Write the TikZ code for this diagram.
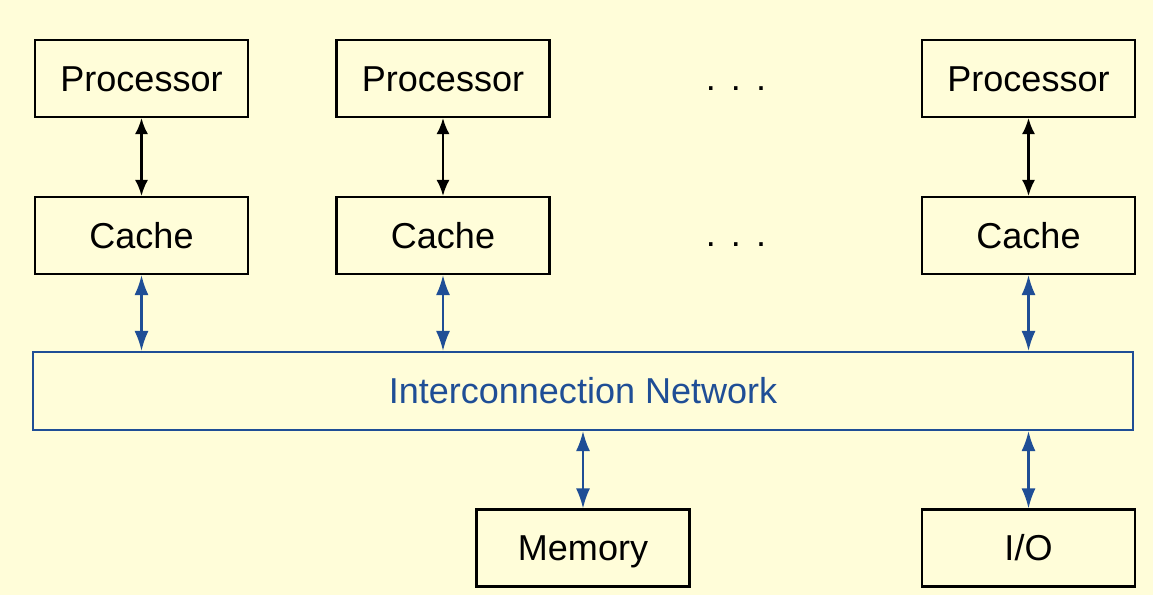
\documentclass[tikz,border=0pt]{standalone}
\usepackage{fontspec}
\setmainfont{Liberation Sans}
\usepackage{xcolor}
\usetikzlibrary{arrows.meta,positioning}
\definecolor{paper}{HTML}{FFFDD9}
\definecolor{netblue}{HTML}{1F4E96}

\begin{document}
\begin{tikzpicture}[x=0.02cm, y=-0.02cm,
  box/.style={draw, line width=1.2pt, fill=paper, minimum width=4.26cm,
              minimum height=1.54cm, inner sep=0pt, text height=14.7pt, text depth=0pt,
              font=\fontsize{20.5}{24}\selectfont},
  net/.style={draw=netblue, line width=1.2pt, minimum width=22cm,
              minimum height=1.56cm, inner sep=0pt, text=netblue,
              text height=14.7pt, text depth=0pt,
              font=\fontsize{20.5}{24}\selectfont},
  dots/.style={anchor=base, inner sep=0pt, font=\fontsize{20.5}{24}\selectfont},
  arr/.style={{Latex[length=3.2mm,width=2.6mm]}-{Latex[length=3.2mm,width=2.6mm]}, line width=1.2pt},
  barr/.style={{Latex[length=4mm,width=2.8mm]}-{Latex[length=4mm,width=2.8mm]}, line width=1.2pt, draw=netblue}
]
\fill[paper] (0,0) rectangle (1153,595);
\useasboundingbox (0,0) rectangle (1153,595);
% processors and caches
\node[box] (p1) at (141.5,78.5) {Processor};
\node[box] (p2) at (443,78.5) {Processor};
\node[box] (p3) at (1028.5,78.5) {Processor};
\node[box] (c1) at (141.5,235.5) {Cache};
\node[box] (c2) at (443,235.5) {Cache};
\node[box] (c3) at (1028.5,235.5) {Cache};
\node[dots] (d1) at (736,90) {.\hspace{0.42em}.\hspace{0.42em}.};
\node[dots] (d2) at (736,246) {.\hspace{0.42em}.\hspace{0.42em}.};
% network, memory, io
\node[net] (net) at (583,391) {Interconnection Network};
\node[box] (mem) at (583,548) {Memory};
\node[box] (io) at (1028.5,548) {I/O};
\draw[arr] (p1) -- (c1);
\draw[arr] (p2) -- (c2);
\draw[arr] (p3) -- (c3);
\draw[barr] (c1) -- (c1 |- net.north);
\draw[barr] (c2) -- (c2 |- net.north);
\draw[barr] (c3) -- (c3 |- net.north);
\draw[barr] (mem |- net.south) -- (mem);
\draw[barr] (io |- net.south) -- (io);
\end{tikzpicture}
\end{document}
